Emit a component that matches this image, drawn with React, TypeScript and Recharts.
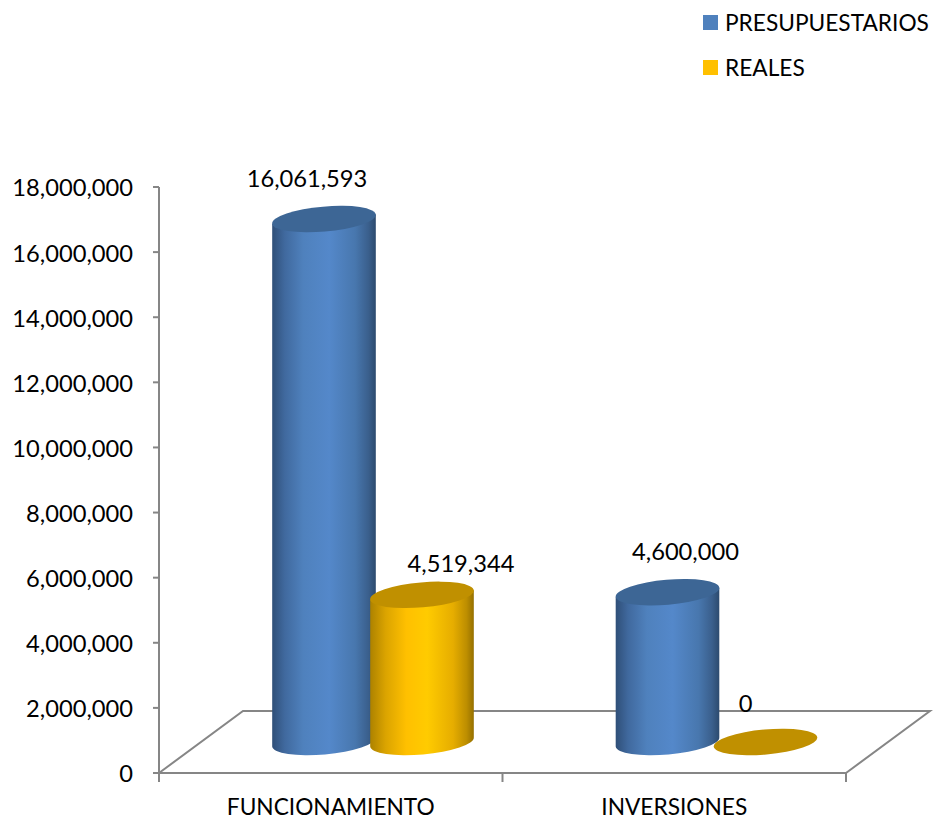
import { Bar, BarChart, LabelList, XAxis, YAxis } from "recharts";

// Chart data
const CATEGORIES = ["FUNCIONAMIENTO", "INVERSIONES"];
const PRESUPUESTARIOS = [16061593, 4600000];
const REALES = [4519344, 0];
const Y_TICKS = [0, 2000000, 4000000, 6000000, 8000000, 10000000, 12000000, 14000000, 16000000, 18000000];

const data = CATEGORIES.map((name, i) => ({
  name,
  presupuestarios: PRESUPUESTARIOS[i],
  reales: REALES[i],
}));

const WIDTH = 933;
const HEIGHT = 819;
const MARGIN = { top: 187, right: 87, left: 0, bottom: 0 };
const Y_AXIS_WIDTH = 159;
const X_AXIS_HEIGHT = 46;

// 3D look: the columns stand in the middle of the floor's depth
const DEPTH_X = 84;
const DEPTH_Y = 62;
const TILT = 5;
const RY = 12.5;

const AXIS_COLOR = "#868686";
const FONT = "Lato, sans-serif";
const FONT_SIZE = 23.7;
const SMALL_FONT_SIZE = 22.7;

const fmt = (v: number) => v.toLocaleString("en-US");

function Cylinder(props: any) {
  const { x, y, width, height, gradient, topColor } = props;
  const rx = width / 2;
  const cx = x + rx + DEPTH_X / 2;
  const topY = y - DEPTH_Y / 2;
  const botY = topY + height;
  const a = (TILT * Math.PI) / 180;
  const dx = rx * Math.cos(a);
  const dy = rx * Math.sin(a);
  const body = `M${cx - dx},${topY + dy} L${cx - dx},${botY + dy} A${rx},${RY} ${-TILT} 0 0 ${cx + dx},${botY - dy} L${cx + dx},${topY - dy} Z`;
  return (
    <g>
      {height > 0 && <path d={body} fill={`url(#${gradient})`} />}
      <ellipse cx={cx} cy={topY} rx={rx} ry={RY} fill={topColor} transform={`rotate(${-TILT} ${cx} ${topY})`} />
    </g>
  );
}

function BarLabel(props: any) {
  const { x, y, width, value, index, nudges } = props;
  const [nx, ny] = nudges[index];
  return (
    <text
      x={x + width / 2 + DEPTH_X / 2 + nx}
      y={y - DEPTH_Y / 2 + ny}
      textAnchor="middle"
      dominantBaseline="central"
      fill="#000"
      fontFamily={FONT}
      fontSize={FONT_SIZE}
    >
      {fmt(value)}
    </text>
  );
}

function Floor() {
  const left = Y_AXIS_WIDTH;
  const right = WIDTH - MARGIN.right;
  const base = HEIGHT - X_AXIS_HEIGHT;
  const mid = (left + right) / 2;
  return (
    <g fill="none" stroke={AXIS_COLOR} strokeWidth={2}>
      <path
        d={`M${left},${base} L${left + DEPTH_X},${base - DEPTH_Y} L${right + DEPTH_X},${base - DEPTH_Y} L${right},${base}`}
      />
      {[left, mid, right].map((tx) => (
        <line key={tx} x1={tx} x2={tx} y1={base} y2={base + 9} />
      ))}
    </g>
  );
}

const LEGEND_ITEMS = [
  { label: "PRESUPUESTARIOS", color: "#4f81bd" },
  { label: "REALES", color: "#ffc000" },
];

function LegendBox() {
  return (
    <div style={{ position: "absolute", left: 703, top: 5, fontFamily: FONT, fontSize: SMALL_FONT_SIZE, color: "#000" }}>
      {LEGEND_ITEMS.map((item) => (
        <div key={item.label} style={{ display: "flex", alignItems: "center", height: 34, marginBottom: 11, whiteSpace: "nowrap" }}>
          <span style={{ width: 15, height: 15, background: item.color, marginRight: 7 }} />
          {item.label}
        </div>
      ))}
    </div>
  );
}

export default function App() {
  return (
    <div style={{ position: "absolute", left: 0, top: 0, width: WIDTH, height: HEIGHT, background: "#fff", overflow: "hidden" }}>
      <BarChart width={WIDTH} height={HEIGHT} data={data} margin={MARGIN} barSize={104} barGap={-6}>
        <defs>
          <linearGradient id="blueSide" x1="0" y1="0" x2="1" y2="0">
            <stop offset="0" stopColor="#2f4f78" />
            <stop offset="0.12" stopColor="#40699e" />
            <stop offset="0.3" stopColor="#4f81bd" />
            <stop offset="0.55" stopColor="#5488ca" />
            <stop offset="0.8" stopColor="#4877ae" />
            <stop offset="0.93" stopColor="#3a5f8c" />
            <stop offset="1" stopColor="#2c4a6e" />
          </linearGradient>
          <linearGradient id="yellowSide" x1="0" y1="0" x2="1" y2="0">
            <stop offset="0" stopColor="#ad8200" />
            <stop offset="0.15" stopColor="#dba400" />
            <stop offset="0.35" stopColor="#ffc000" />
            <stop offset="0.55" stopColor="#ffcb00" />
            <stop offset="0.8" stopColor="#e6ad00" />
            <stop offset="0.93" stopColor="#bd8e00" />
            <stop offset="1" stopColor="#957000" />
          </linearGradient>
        </defs>
        <Floor />
        <XAxis
          dataKey="name"
          height={X_AXIS_HEIGHT}
          tickLine={false}
          axisLine={{ stroke: AXIS_COLOR, strokeWidth: 2 }}
          tick={{ fill: "#000", fontFamily: FONT, fontSize: SMALL_FONT_SIZE }}
          interval={0}
          tickMargin={20}
        />
        <YAxis
          width={Y_AXIS_WIDTH}
          domain={[0, 18000000]}
          ticks={Y_TICKS}
          tickFormatter={fmt}
          tickSize={6}
          tickMargin={20}
          interval={0}
          axisLine={{ stroke: AXIS_COLOR, strokeWidth: 2 }}
          tickLine={{ stroke: AXIS_COLOR, strokeWidth: 2 }}
          tick={{ fill: "#000", fontFamily: FONT, fontSize: FONT_SIZE, dy: 1 }}
        />
        <Bar
          dataKey="presupuestarios"
          fill="#4f81bd"
          isAnimationActive={false}
          shape={(p: any) => <Cylinder {...p} gradient="blueSide" topColor="#3d6695" />}
        >
          <LabelList
            dataKey="presupuestarios"
            content={(p: any) => <BarLabel {...p} nudges={[[-17, -41], [18, -41]]} />}
          />
        </Bar>
        <Bar
          dataKey="reales"
          fill="#ffc000"
          isAnimationActive={false}
          shape={(p: any) => <Cylinder {...p} gradient="yellowSide" topColor="#c09000" />}
        >
          <LabelList
            dataKey="reales"
            content={(p: any) => <BarLabel {...p} nudges={[[39, -32], [-20, -39]]} />}
          />
        </Bar>
      </BarChart>
      <LegendBox />
    </div>
  );
}
